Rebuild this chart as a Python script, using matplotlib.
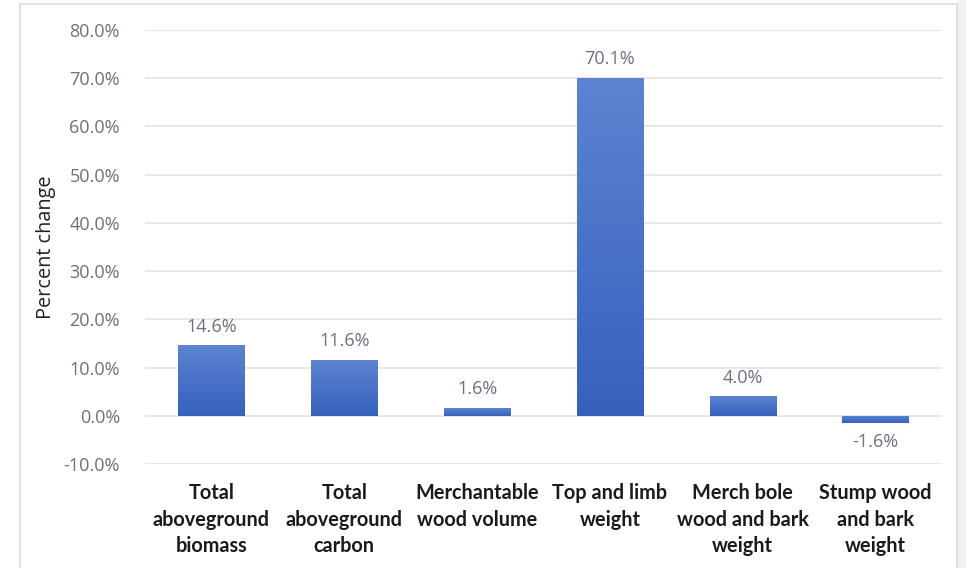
import matplotlib
matplotlib.use("Agg")
import matplotlib.pyplot as plt
from matplotlib.patches import Rectangle
from matplotlib.colors import LinearSegmentedColormap
import numpy as np

categories = ["Total\naboveground\nbiomass", "Total\naboveground\ncarbon",
              "Merchantable\nwood volume", "Top and limb\nweight",
              "Merch bole\nwood and bark\nweight", "Stump wood\nand bark\nweight"]
values = [14.6, 11.6, 1.6, 70.1, 4.0, -1.6]
yticks = [-10, 0, 10, 20, 30, 40, 50, 60, 70, 80]

fig = plt.figure(figsize=(9.66, 5.68), dpi=100)
fig.patch.set_facecolor("white")

# outer chart frame and grey margin on the right
fig.patches.append(Rectangle((957/966, 0), 9/966, 1, transform=fig.transFigure,
                             facecolor="#f1f1f3", edgecolor="none", zorder=0))
fig.patches.append(Rectangle((20/966, -0.01), 937/966, 1 - 4/568 + 0.01,
                             transform=fig.transFigure, facecolor="none",
                             edgecolor="#d9dbe0", lw=1.2, zorder=1))

ax = fig.add_axes([145/966, 1 - 464/568, (942 - 145)/966, (464 - 30)/568])
ax.set_ylim(-10, 80)
ax.set_xlim(-0.5, len(values) - 0.5)

x = np.arange(len(values))
bars = ax.bar(x, values, width=0.5, color="none", edgecolor="none", zorder=3)

cmap = LinearSegmentedColormap.from_list("bar", ["#3561bd", "#5d84d1"])
grad = np.linspace(0, 1, 256).reshape(-1, 1)
for b in bars:
    x0, y0 = b.get_x(), b.get_y()
    w, h = b.get_width(), b.get_height()
    lo, hi = min(y0, y0 + h), max(y0, y0 + h)
    im = ax.imshow(grad, cmap=cmap, aspect="auto", origin="lower",
                   extent=(x0, x0 + w, lo, hi), zorder=3)
    im.set_clip_path(b)

for xi, v in zip(x, values):
    if v >= 0:
        ax.text(xi, v + 2.0, f"{v:.1f}%", ha="center", va="bottom",
                fontsize=13, color="#6b7082", family="Open Sans")
    else:
        ax.text(xi, v - 2.0, f"{v:.1f}%", ha="center", va="top",
                fontsize=13, color="#6b7082", family="Open Sans")

ax.set_yticks(yticks)
ax.set_yticklabels([f"{t:.1f}%" for t in yticks], fontsize=13,
                   color="#6b7082", family="Open Sans")
ax.tick_params(axis="y", length=0, pad=18)
ax.tick_params(axis="x", length=0, pad=14)
ax.set_xticks(x)
ax.set_xticklabels(categories, fontsize=14.3, fontweight="bold",
                   family="Lato", color="#1a1a1a", linespacing=1.38)
ax.set_ylim(-10, 80)
ax.grid(axis="y", color="#e3e3e3", lw=1.2, zorder=0)
ax.set_axisbelow(True)
for s in ax.spines.values():
    s.set_visible(False)

fig.text(46/966, 1 - 247/568, "Percent change", rotation=90, ha="center",
         va="center", fontsize=14.3, family="Open Sans", color="#222222")

fig.savefig("out.png", dpi=100)
